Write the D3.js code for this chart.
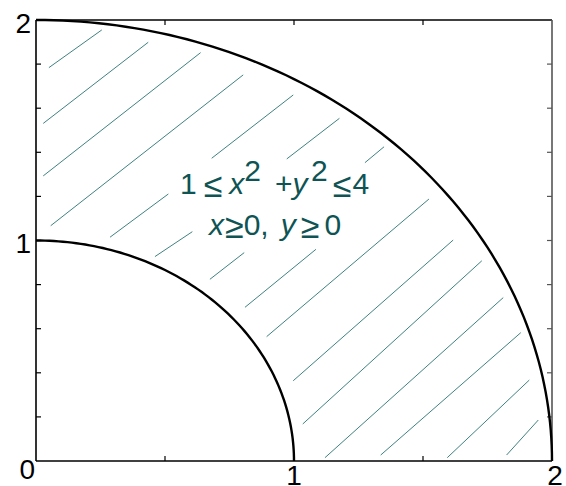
<!DOCTYPE html>
<html>
<head>
<meta charset="utf-8">
<script src="https://cdn.jsdelivr.net/npm/d3@7"></script>
<style>
  html, body { margin: 0; padding: 0; background: #fff; }
  svg { display: block; }
</style>
</head>
<body>
<svg id="chart" width="566" height="486"></svg>
<script>
// Quarter annulus 1 <= x^2 + y^2 <= 4 in the first quadrant
const radii = [1, 2];
const domainX = [0, 2];
const domainY = [0, 2];
const xTickValues = [0.5, 1, 1.5];
const yTickValues = [0.2, 0.4, 0.6, 0.8, 1, 1.2, 1.4, 1.6, 1.8];
const xTickLabels = [1, 2];
const yTickLabels = [1, 2];
const originLabel = "0";

// Hatch strokes filling the region: [x1, y1, x2, y2]
const hatchSegments = [
  [0.050, 1.784, 0.255, 1.955],
  [0.028, 1.531, 0.435, 1.899],
  [0.028, 1.293, 0.638, 1.852],
  [0.057, 1.067, 0.803, 1.751],
  [0.287, 1.015, 0.513, 1.211],
  [0.681, 1.373, 0.997, 1.660],
  [0.461, 0.927, 0.606, 1.040],
  [0.972, 1.370, 1.176, 1.554],
  [0.674, 0.824, 0.807, 0.945],
  [1.275, 1.353, 1.349, 1.425],
  [0.810, 0.697, 1.085, 0.960],
  [0.894, 0.564, 1.523, 1.188],
  [0.997, 0.364, 1.617, 1.002],
  [1.034, 0.168, 1.728, 0.908],
  [1.120, 0.015, 1.811, 0.741],
  [1.336, 0.027, 1.879, 0.582],
  [1.594, 0.015, 1.912, 0.367],
  [1.824, 0.027, 1.947, 0.186]
];

const margin = { left: 36, right: 14, top: 20, bottom: 25 };
const W = 566, H = 486;

const svg = d3.select("#chart");
const x = d3.scaleLinear().domain(domainX).range([margin.left, W - margin.right]);
const y = d3.scaleLinear().domain(domainY).range([H - margin.bottom, margin.top]);

const hatchColor = "#3f8282";
const textColor = "#0e5454";

// hatching
svg.append("g")
  .selectAll("line")
  .data(hatchSegments)
  .join("line")
  .attr("x1", d => x(d[0])).attr("y1", d => y(d[1]))
  .attr("x2", d => x(d[2])).attr("y2", d => y(d[3]))
  .attr("stroke", hatchColor)
  .attr("stroke-width", 1);

// frame
const g = svg.append("g");
g.append("line").attr("x1", x(0)).attr("x2", x(2)).attr("y1", y(0)).attr("y2", y(0))
  .attr("stroke", "#000").attr("stroke-width", 1.6);
g.append("line").attr("x1", x(0)).attr("x2", x(2)).attr("y1", y(2)).attr("y2", y(2))
  .attr("stroke", "#000").attr("stroke-width", 1.3);
g.append("line").attr("x1", x(0)).attr("x2", x(0)).attr("y1", y(0)).attr("y2", y(2))
  .attr("stroke", "#000").attr("stroke-width", 1.6);
g.append("line").attr("x1", x(2)).attr("x2", x(2)).attr("y1", y(0)).attr("y2", y(2))
  .attr("stroke", "#555").attr("stroke-width", 1.6);

// inward ticks on all four sides
const tickLen = 5;
g.selectAll("line.xb").data(xTickValues).join("line").attr("class", "xb")
  .attr("x1", d => x(d)).attr("x2", d => x(d))
  .attr("y1", y(0)).attr("y2", y(0) - tickLen)
  .attr("stroke", "#000").attr("stroke-width", 1.2);
g.selectAll("line.xt").data(xTickValues).join("line").attr("class", "xt")
  .attr("x1", d => x(d)).attr("x2", d => x(d))
  .attr("y1", y(2)).attr("y2", y(2) + tickLen)
  .attr("stroke", "#000").attr("stroke-width", 1.2);
g.selectAll("line.yl").data(yTickValues).join("line").attr("class", "yl")
  .attr("y1", d => y(d)).attr("y2", d => y(d))
  .attr("x1", x(0)).attr("x2", x(0) + tickLen)
  .attr("stroke", "#000").attr("stroke-width", 1.2);
g.selectAll("line.yr").data(yTickValues).join("line").attr("class", "yr")
  .attr("y1", d => y(d)).attr("y2", d => y(d))
  .attr("x1", x(2)).attr("x2", x(2) - tickLen)
  .attr("stroke", "#555").attr("stroke-width", 1.2);

// the two boundary arcs
const arcLine = d3.line().x(d => x(d[0])).y(d => y(d[1]));
radii.forEach(r => {
  const pts = d3.range(0, 91).map(a => {
    const t = a * Math.PI / 180;
    return [r * Math.cos(t), r * Math.sin(t)];
  });
  svg.append("path")
    .attr("d", arcLine(pts))
    .attr("fill", "none")
    .attr("stroke", "#000")
    .attr("stroke-width", 2.4);
});

// tick labels
const labelFont = "'Liberation Sans', Arial, sans-serif";
const labelSize = 28;
svg.append("g").selectAll("text").data(xTickLabels).join("text")
  .attr("x", d => x(d) + (d === 2 ? 3 : 0))
  .attr("y", y(0) + 24)
  .attr("text-anchor", "middle")
  .attr("font-family", labelFont).attr("font-size", labelSize)
  .text(d => d);
svg.append("g").selectAll("text").data(yTickLabels).join("text")
  .attr("x", x(0) - 5)
  .attr("y", d => y(d) + 12.5)
  .attr("text-anchor", "end")
  .attr("font-family", labelFont).attr("font-size", labelSize)
  .text(d => d);
svg.append("text")
  .attr("x", x(0) - 1).attr("y", y(0) + 18)
  .attr("text-anchor", "end")
  .attr("font-family", labelFont).attr("font-size", labelSize)
  .text(originLabel);

// region description
const note = svg.append("g")
  .attr("font-family", labelFont)
  .attr("font-size", 30)
  .attr("fill", textColor);
const relSize = 34;

const l1 = note.append("text").attr("x", 180).attr("y", y(1.213));
l1.append("tspan").text("1");
l1.append("tspan").attr("font-size", relSize).attr("dx", 7).attr("dy", 3).text("≤");
l1.append("tspan").attr("font-style", "italic").attr("dx", 7).attr("dy", -3).text("x");
l1.append("tspan").attr("dx", 0).attr("dy", -13).text("2");
l1.append("tspan").attr("dx", 14).attr("dy", 13).text("+");
l1.append("tspan").attr("font-style", "italic").text("y");
l1.append("tspan").attr("dx", 3.5).attr("dy", -13).text("2");
l1.append("tspan").attr("font-size", relSize).attr("dx", 5).attr("dy", 16).text("≤");
l1.append("tspan").attr("dx", 1).attr("dy", -3).text("4");

const l2 = note.append("text").attr("x", 209).attr("y", y(1.027));
l2.append("tspan").attr("font-style", "italic").text("x");
l2.append("tspan").attr("font-size", relSize).attr("dx", 1).attr("dy", 3).text("≥");
l2.append("tspan").attr("dx", 0).attr("dy", -3).text("0,");
l2.append("tspan").attr("font-style", "italic").attr("dx", 12).text("y");
l2.append("tspan").attr("font-size", relSize).attr("dx", 5).attr("dy", 3).text("≥");
l2.append("tspan").attr("dx", 5).attr("dy", -3).text("0");
</script>
</body>
</html>
